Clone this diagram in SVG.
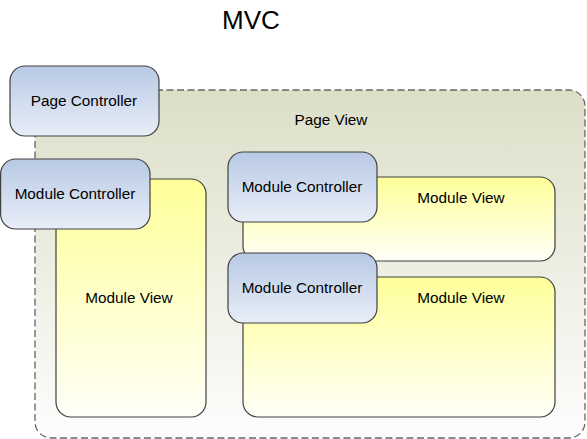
<svg xmlns="http://www.w3.org/2000/svg" width="587" height="439" viewBox="0 0 587 439">
<defs>
<linearGradient id="gCtl" x1="0" y1="0" x2="0" y2="1">
<stop offset="0" stop-color="#b8c9e4"/>
<stop offset="1" stop-color="#e8eef8"/>
</linearGradient>
<linearGradient id="gView" x1="0" y1="0" x2="0" y2="1">
<stop offset="0" stop-color="#ffff99"/>
<stop offset="1" stop-color="#fffff8"/>
</linearGradient>
<linearGradient id="gPage" x1="0" y1="0" x2="0" y2="1">
<stop offset="0" stop-color="#dcdfc7"/>
<stop offset="1" stop-color="#fdfdfd"/>
</linearGradient>
</defs>
<style>
.ctl{fill:url(#gCtl);stroke:#404040;stroke-width:1.2}
.view{fill:url(#gView);stroke:#404040;stroke-width:1.2}
.page{fill:url(#gPage);stroke:#666666;stroke-width:1.3;stroke-dasharray:7,3.5}
text{font-family:"Liberation Sans",Arial,sans-serif;font-size:15.3px;fill:#000;text-anchor:middle}
.title{font-size:26px}
</style>
<rect width="587" height="439" fill="#ffffff"/>
<text class="title" x="251" y="29">MVC</text>
<g id="page-view">
<rect class="page" x="35" y="90" width="550" height="348" rx="16"/>
<text x="331" y="125">Page View</text>
</g>
<g id="page-controller">
<rect class="ctl" x="10" y="66" width="149" height="70" rx="15"/>
<text x="84" y="106">Page Controller</text>
</g>
<g id="module-view-left">
<rect class="view" x="56" y="179" width="150" height="238" rx="15"/>
<text x="129" y="303">Module View</text>
</g>
<g id="module-controller-left">
<rect class="ctl" x="0.6" y="159" width="149.4" height="70" rx="15"/>
<text x="75" y="199">Module Controller</text>
</g>
<g id="module-view-top">
<rect class="view" x="243" y="177" width="312" height="84" rx="15"/>
<text x="461" y="203">Module View</text>
</g>
<g id="module-controller-top">
<rect class="ctl" x="228" y="152" width="149" height="70" rx="15"/>
<text x="302" y="192">Module Controller</text>
</g>
<g id="module-view-bottom">
<rect class="view" x="243" y="277" width="312" height="140" rx="15"/>
<text x="461" y="303">Module View</text>
</g>
<g id="module-controller-bottom">
<rect class="ctl" x="228" y="253" width="149" height="70" rx="15"/>
<text x="302" y="293">Module Controller</text>
</g>
<g id="connectors"/>
</svg>
